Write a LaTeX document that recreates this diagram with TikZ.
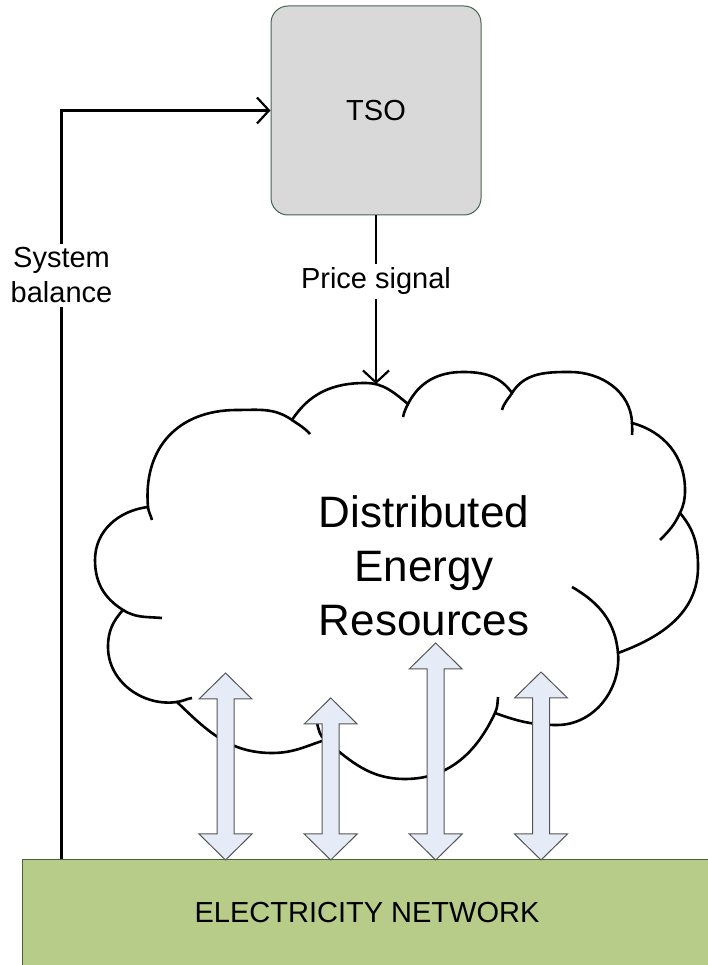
\documentclass[tikz,border=0pt]{standalone}
\usepackage{fontspec}
\setmainfont{Liberation Sans}
\usetikzlibrary{arrows.meta}
\definecolor{tsofill}{RGB}{217,217,217}
\definecolor{tsoline}{RGB}{70,100,80}
\definecolor{netfill}{RGB}{184,204,137}
\definecolor{netline}{RGB}{70,100,55}
\definecolor{flowfill}{RGB}{230,236,247}
\definecolor{flowline}{RGB}{85,85,85}

\begin{document}
\begin{tikzpicture}[x=1pt, y=1pt, >={Straight Barb[length=12pt,width=26pt]},
  every node/.style={font=\fontsize{29}{35}\selectfont}]
  \tikzstyle{tsobox}=[draw=tsoline, line width=1pt, rounded corners=17pt, fill=tsofill, minimum width=210pt, minimum height=209pt]
  \tikzstyle{netbox}=[draw=netline, line width=1pt, fill=netfill, minimum width=690pt, minimum height=106pt]
  \tikzstyle{conn}=[->, line width=2.2pt]
  \tikzstyle{lbl}=[fill=white, align=center, inner sep=4pt]
  \tikzstyle{puff}=[line width=2.6pt]
  \tikzstyle{flow}=[draw=flowline, line width=1pt, fill=flowfill, line join=miter]
  \useasboundingbox (0,0) rectangle (707,965);
  \node[tsobox] (tso) at (376,854.5) {TSO};
  \node[netbox] (net) at (367,52) {ELECTRICITY NETWORK};
  \coordinate (dertop) at (376,581);
  \draw[puff] (148,458) to[out=95,in=180,looseness=1.15] (237,555) to[out=0,in=145] (292,545)
    to[out=57,in=180] (365,582) to[out=0,in=141] (408,561)
    to[out=63,in=180] (463,593) to[out=0,in=125] (512,572)
    to[out=58,in=180] (570,593) to[out=0,in=92] (632,542)
    to[out=-15,in=90] (685,475) to[out=-90,in=65] (680,452)
    to[out=-50,in=90] (698,398) to[out=-90,in=20] (618,312)
    to[out=-85,in=0] (557,240) to[out=180,in=-20] (495,252)
    to[out=-115,in=0] (405,186) to[out=180,in=-40] (325,225)
    to[out=198,in=0] (272,212) to[out=180,in=-44] (177,263)
    to[out=-172,in=-90] (108,318) to[out=90,in=-132] (123,355)
    to[out=148,in=-90] (95,405) to[out=90,in=-173] (148,458);
  \draw[puff] (148,458) to[out=-85,in=104] (152,445);
  \draw[puff] (292,545) to[out=-35,in=132] (310,531);
  \draw[puff] (408,561) to[out=243,in=77] (403,548);
  \draw[puff] (512,572) to[out=238,in=74] (502,555);
  \draw[puff] (632,542) to[out=-88,in=85] (632,530);
  \draw[puff] (680,452) to[out=-115,in=45] (660,425);
  \draw[puff] (618,312) to[out=95,in=-30] (572,378);
  \draw[puff] (495,252) to[out=65,in=-95] (498,268);
  \draw[puff] (325,225) to[out=140,in=-75] (317,242);
  \draw[puff] (177,263) to[out=8,in=190] (192,267);
  \draw[puff] (123,355) to[out=-32,in=175] (162,347);
  \node[align=center, font=\fontsize{44}{54}\selectfont] (der) at (424,399) {Distributed\\Energy\\Resources};
  \foreach \x/\t in {225.5/292, 330.7/267, 435.7/322, 541/293}
    \draw[flow] (\x,\t) -- ++(26.5,-26) -- ++(-18,0) -- ({\x+8.5},131) -- ++(18,0) -- (\x,105)
      -- ++(-26.5,26) -- ++(18,0) -- ({\x-8.5},{\t-26}) -- ++(-18,0) -- cycle;
  \draw[conn] ([xshift=40pt]net.north west) |- node[lbl, pos=0.39] {System\\balance} (tso.west);
  \draw[conn] (tso.south) -- node[lbl, pos=0.39] {Price signal} (dertop);
\end{tikzpicture}
\end{document}
